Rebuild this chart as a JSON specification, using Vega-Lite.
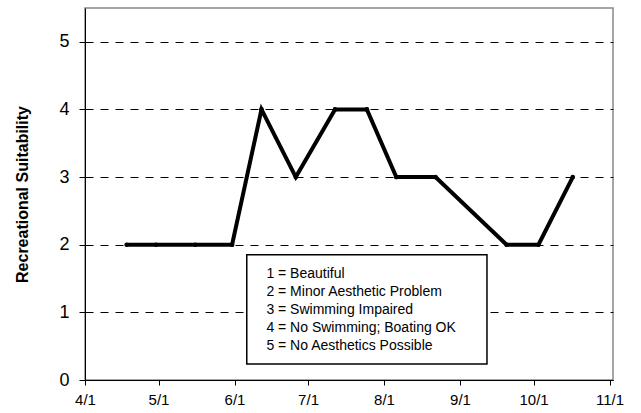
{
  "$schema": "https://vega.github.io/schema/vega-lite/v6.json",
  "width": 528,
  "height": 372,
  "autosize": {"type": "none"},
  "padding": {"left": 85, "top": 8, "right": 28, "bottom": 33},
  "background": "white",
  "config": {
    "font": "Liberation Sans",
    "view": {"stroke": "#888888", "strokeWidth": 1.5}
  },
  "layer": [
    {
      "data": {"values": [
        {"date": "2008/04/18", "suit": 2},
        {"date": "2008/04/30", "suit": 2},
        {"date": "2008/05/16", "suit": 2},
        {"date": "2008/05/31", "suit": 2},
        {"date": "2008/06/12", "suit": 4},
        {"date": "2008/06/26", "suit": 3},
        {"date": "2008/07/12", "suit": 4},
        {"date": "2008/07/25", "suit": 4},
        {"date": "2008/08/06", "suit": 3},
        {"date": "2008/08/22", "suit": 3},
        {"date": "2008/09/20", "suit": 2},
        {"date": "2008/10/03", "suit": 2},
        {"date": "2008/10/17", "suit": 3}
      ]},
      "layer": [
        {
          "mark": {"type": "line", "color": "black", "strokeWidth": 4, "strokeJoin": "miter"},
          "encoding": {
            "x": {
              "field": "date", "type": "temporal",
              "scale": {"domain": [{"year": 2008, "month": 4, "date": 1}, {"year": 2008, "month": 11, "date": 2, "hours": 10}], "nice": false},
              "axis": {
                "title": null,
                "values": [
                  {"year": 2008, "month": 4, "date": 1},
                  {"year": 2008, "month": 5, "date": 1},
                  {"year": 2008, "month": 6, "date": 1},
                  {"year": 2008, "month": 7, "date": 1},
                  {"year": 2008, "month": 8, "date": 1},
                  {"year": 2008, "month": 9, "date": 1},
                  {"year": 2008, "month": 10, "date": 1},
                  {"year": 2008, "month": 11, "date": 1}
                ],
                "format": "%-m/%-d",
                "grid": false,
                "domainColor": "black",
                "tickColor": "black",
                "tickSize": 5,
                "labelFontSize": 15,
                "labelColor": "black",
                "labelPadding": 7,
                "labelFlush": false,
                "labelOverlap": false,
                "labelBound": false
              }
            },
            "y": {
              "field": "suit", "type": "quantitative",
              "scale": {"domain": [0, 5.5], "nice": false},
              "axis": {
                "title": "Recreational Suitability",
                "titleFontSize": 16,
                "titleFontWeight": "bold",
                "titleColor": "black",
                "titlePadding": 28,
                "values": [0, 1, 2, 3, 4, 5],
                "format": "d",
                "grid": true,
                "gridColor": "black",
                "gridDash": [8, 7],
                "gridWidth": 1,
                "gridOpacity": 1,
                "domainColor": "black",
                "tickColor": "black",
                "tickSize": 6,
                "labelFontSize": 18,
                "labelColor": "black",
                "labelPadding": 10
              }
            }
          }
        },
        {
          "mark": {"type": "point", "filled": true, "color": "black", "size": 22, "opacity": 1},
          "encoding": {
            "x": {"field": "date", "type": "temporal"},
            "y": {"field": "suit", "type": "quantitative"}
          }
        }
      ]
    },
    {
      "data": {"values": [{"x1": "2008/06/06", "x2": "2008/09/12", "y1": 0.237, "y2": 1.85}]},
      "mark": {"type": "rect", "fill": "white", "stroke": "black", "strokeWidth": 1.5},
      "encoding": {
        "x": {"field": "x1", "type": "temporal"},
        "x2": {"field": "x2"},
        "y": {"field": "y1", "type": "quantitative"},
        "y2": {"field": "y2"}
      }
    },
    {
      "data": {"values": [
        {"label": "1 = Beautiful", "d": "2008/06/14", "v": 1.567},
        {"label": "2 = Minor Aesthetic Problem", "d": "2008/06/14", "v": 1.301},
        {"label": "3 = Swimming Impaired", "d": "2008/06/14", "v": 1.035},
        {"label": "4 = No Swimming; Boating OK", "d": "2008/06/14", "v": 0.769},
        {"label": "5 = No Aesthetics Possible", "d": "2008/06/14", "v": 0.503}
      ]},
      "mark": {"type": "text", "align": "left", "baseline": "middle", "fontSize": 14, "color": "black"},
      "encoding": {
        "x": {"field": "d", "type": "temporal"},
        "y": {"field": "v", "type": "quantitative"},
        "text": {"field": "label"}
      }
    }
  ]
}
